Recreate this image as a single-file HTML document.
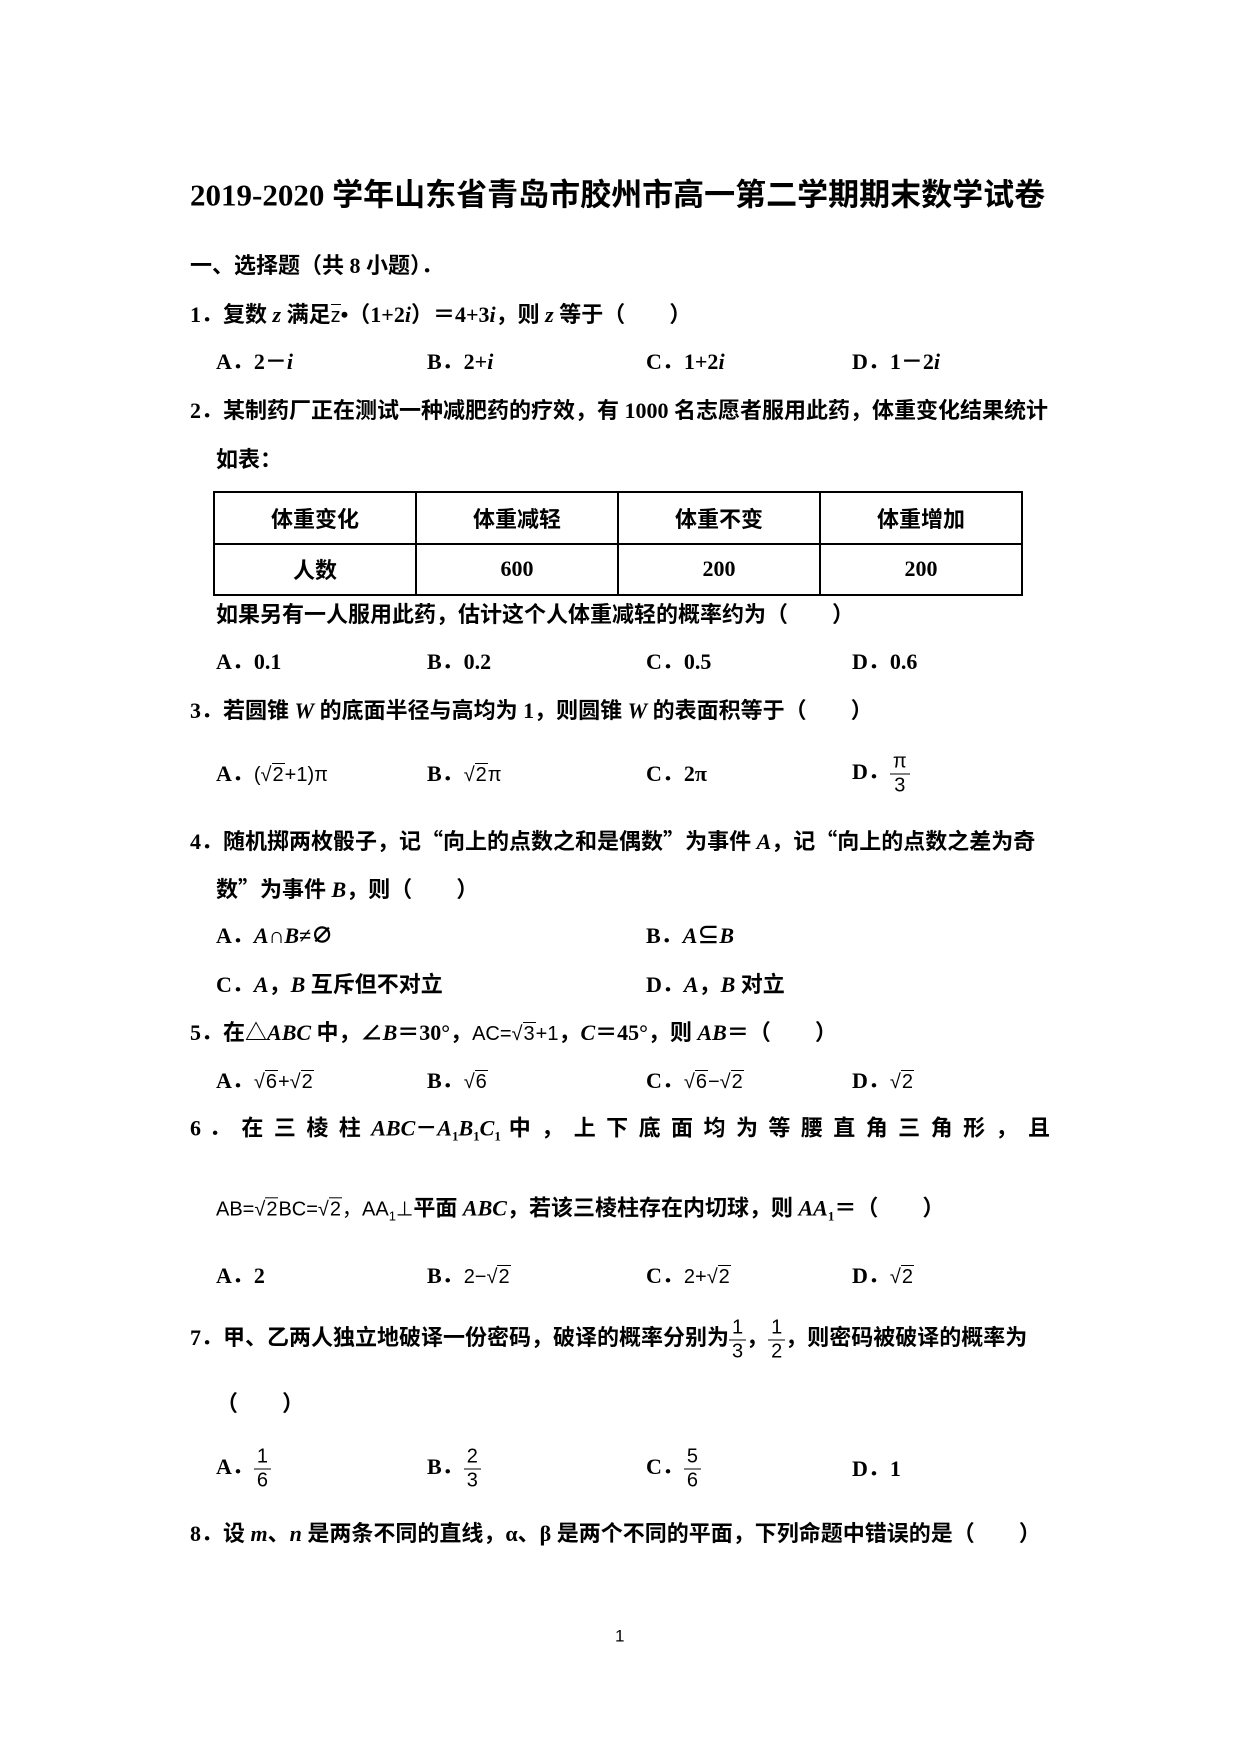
<!DOCTYPE html>
<html><head><meta charset="utf-8"><style>
body{margin:0;background:#fff;}
#p{position:relative;width:1240px;height:1754px;background:#fff;font-family:"Liberation Serif","Noto Sans CJK SC",serif;font-weight:bold;color:#000;font-size:22px;}
.l{position:absolute;white-space:nowrap;line-height:1;transform:translateY(-50%);}
i{font-style:italic;}
.q{font-family:"Noto Sans CJK SC",sans-serif;}
.m{font-weight:normal;font-family:"Liberation Sans","DejaVu Sans",sans-serif;font-size:20px;}
.r{border-top:1.5px solid #000;padding:0 1px;}
.fr{display:inline-flex;flex-direction:column;align-items:center;vertical-align:middle;font-weight:normal;font-family:"Liberation Sans",sans-serif;font-size:20px;line-height:1.15;}
.fr span:first-child{border-bottom:1.5px solid #000;padding:0 3px;}
table{position:absolute;left:213px;top:491px;width:810px;height:105px;border-collapse:collapse;font-size:22px;}
td{border:2px solid #000;text-align:center;width:25%;}
.j{position:absolute;left:190px;width:860px;text-align:justify;text-align-last:justify;line-height:1;transform:translateY(-50%);}
</style></head><body><div id="p">
<div class="l" style="left:190px;top:195px;font-size:31px;">2019-2020 学年山东省青岛市胶州市高一第二学期期末数学试卷</div>
<div class="l" style="left:190px;top:266px;">一、选择题（共 8 小题）．</div>
<div class="l" style="left:190px;top:315px;">1．复数 <i>z</i> 满足<span class="m" style="border-top:1.5px solid #000">z</span>•（1+2<i>i</i>）＝4+3<i>i</i>，则 <i>z</i> 等于（　　）</div>
<div class="l" style="left:216px;top:362px;">A．2－<i>i</i></div>
<div class="l" style="left:427px;top:362px;">B．2+<i>i</i></div>
<div class="l" style="left:646px;top:362px;">C．1+2<i>i</i></div>
<div class="l" style="left:852px;top:362px;">D．1－2<i>i</i></div>
<div class="l" style="left:190px;top:411px;">2．某制药厂正在测试一种减肥药的疗效，有 1000 名志愿者服用此药，体重变化结果统计</div>
<div class="l" style="left:216px;top:460px;">如表：</div>
<table><tr><td>体重变化</td><td>体重减轻</td><td>体重不变</td><td>体重增加</td></tr><tr><td>人数</td><td>600</td><td>200</td><td>200</td></tr></table>
<div class="l" style="left:216px;top:615px;">如果另有一人服用此药，估计这个人体重减轻的概率约为（　　）</div>
<div class="l" style="left:216px;top:662px;">A．0.1</div>
<div class="l" style="left:427px;top:662px;">B．0.2</div>
<div class="l" style="left:646px;top:662px;">C．0.5</div>
<div class="l" style="left:852px;top:662px;">D．0.6</div>
<div class="l" style="left:190px;top:711px;">3．若圆锥 <i>W</i> 的底面半径与高均为 1，则圆锥 <i>W</i> 的表面积等于（　　）</div>
<div class="l" style="left:216px;top:774px;">A．<span class="m">(√<span class="r">2</span>+1)π</span></div>
<div class="l" style="left:427px;top:774px;">B．<span class="m">√<span class="r">2</span>π</span></div>
<div class="l" style="left:646px;top:774px;">C．2π</div>
<div class="l" style="left:852px;top:774px;">D．<span class="fr"><span>π</span><span>3</span></span></div>
<div class="l" style="left:190px;top:841px;">4．随机掷两枚骰子，记<span class="q">“</span>向上的点数之和是偶数<span class="q">”</span>为事件 <i>A</i>，记<span class="q">“</span>向上的点数之差为奇</div>
<div class="l" style="left:216px;top:889px;">数<span class="q">”</span>为事件 <i>B</i>，则（　　）</div>
<div class="l" style="left:216px;top:936px;">A．<i>A</i>∩<i>B</i>≠∅</div>
<div class="l" style="left:646px;top:936px;">B．<i>A</i>⊆<i>B</i></div>
<div class="l" style="left:216px;top:985px;">C．<i>A</i>，<i>B</i> 互斥但不对立</div>
<div class="l" style="left:646px;top:985px;">D．<i>A</i>，<i>B</i> 对立</div>
<div class="l" style="left:190px;top:1033px;">5．在△<i>ABC</i> 中，∠<i>B</i>＝30°，<span class="m">AC=√<span class="r">3</span>+1</span>，<i>C</i>＝45°，则 <i>AB</i>＝（　　）</div>
<div class="l" style="left:216px;top:1081px;">A．<span class="m">√<span class="r">6</span>+√<span class="r">2</span></span></div>
<div class="l" style="left:427px;top:1081px;">B．<span class="m">√<span class="r">6</span></span></div>
<div class="l" style="left:646px;top:1081px;">C．<span class="m">√<span class="r">6</span>−√<span class="r">2</span></span></div>
<div class="l" style="left:852px;top:1081px;">D．<span class="m">√<span class="r">2</span></span></div>
<div class="j" style="top:1130px;">6 ． 在 三 棱 柱 <i>ABC</i>－<i>A</i><sub style="font-size:13px">1</sub><i>B</i><sub style="font-size:13px">1</sub><i>C</i><sub style="font-size:13px">1</sub> 中 ， 上 下 底 面 均 为 等 腰 直 角 三 角 形 ， 且</div>
<div class="l" style="left:216px;top:1210px;"><span class="m">AB=√<span class="r">2</span>BC=√<span class="r">2</span>，AA<sub style="font-size:13px">1</sub>⊥</span>平面 <i>ABC</i>，若该三棱柱存在内切球，则 <i>AA</i><sub style="font-size:13px">1</sub>＝（　　）</div>
<div class="l" style="left:216px;top:1276px;">A．2</div>
<div class="l" style="left:427px;top:1276px;">B．<span class="m">2−√<span class="r">2</span></span></div>
<div class="l" style="left:646px;top:1276px;">C．<span class="m">2+√<span class="r">2</span></span></div>
<div class="l" style="left:852px;top:1276px;">D．<span class="m">√<span class="r">2</span></span></div>
<div class="l" style="left:190px;top:1340px;">7．甲、乙两人独立地破译一份密码，破译的概率分别为<span class="fr"><span>1</span><span>3</span></span>，<span class="fr"><span>1</span><span>2</span></span>，则密码被破译的概率为</div>
<div class="l" style="left:216px;top:1404px;">（　　）</div>
<div class="l" style="left:216px;top:1469px;">A．<span class="fr"><span>1</span><span>6</span></span></div>
<div class="l" style="left:427px;top:1469px;">B．<span class="fr"><span>2</span><span>3</span></span></div>
<div class="l" style="left:646px;top:1469px;">C．<span class="fr"><span>5</span><span>6</span></span></div>
<div class="l" style="left:852px;top:1469px;">D．1</div>
<div class="l" style="left:190px;top:1534px;">8．设 <i>m</i>、<i>n</i> 是两条不同的直线，α、β 是两个不同的平面，下列命题中错误的是（　　）</div>
<div class="l" style="left:615px;top:1636px;font-weight:normal;font-family:'Liberation Sans',sans-serif;font-size:17px;">1</div>
</div></body></html>
